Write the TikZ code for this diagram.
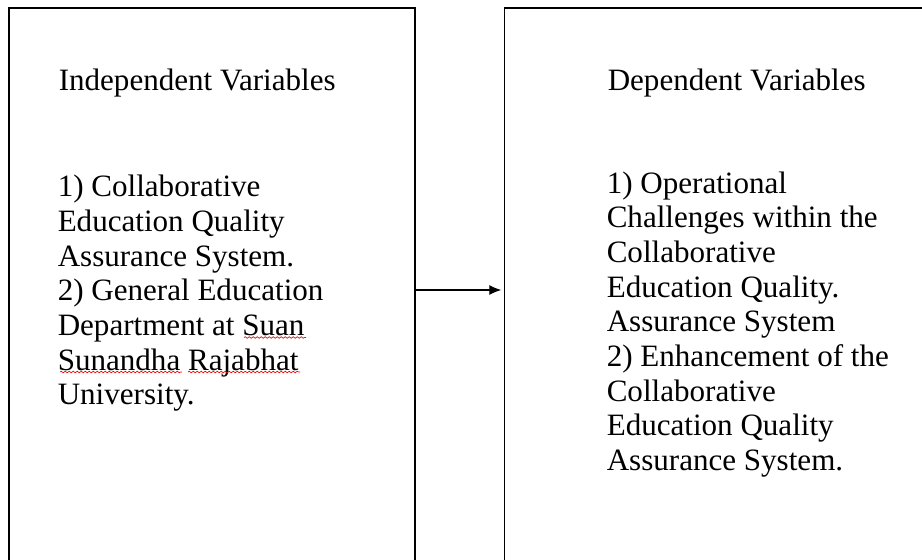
\documentclass[tikz,border=0pt]{standalone}
\usepackage{fontspec}
\setmainfont{Liberation Serif}
\usetikzlibrary{arrows.meta,decorations.pathmorphing}

\begin{document}
\begin{tikzpicture}[x=0.75pt,y=-0.75pt,
	varbox/.style={draw,line width=0.9pt,inner sep=0pt,minimum height=423pt},
	vartext/.style={anchor=base west,align=left,inner sep=0pt,font=\fontsize{23.3pt}{26pt}\selectfont},
	spell/.style={red,line width=0.5pt,decorate,decoration={snake,amplitude=0.6pt,segment length=3pt}}]
	\useasboundingbox (0,0) rectangle (922,560);
	\clip (0,0) rectangle (922,560);
	\node[varbox,minimum width=304.5pt] (indep) at (212,290) {};
	\node[varbox,minimum width=319.1pt] (dep) at (717.25,290) {};
	\draw[line width=0.8pt,-{Latex[length=9pt,width=7.5pt]},shorten >=2pt] (indep.east)--(dep.west);
	\node[vartext] (indephead) at (58.5,90.5) {Independent Variables};
	\node[vartext] (indeplist) at (57.5,404.7) {1) Collaborative\\Education Quality\\Assurance System.\\2) General Education\\Department at Suan\\Sunandha Rajabhat\\University.};
	\node[vartext] (dephead) at (607.5,90.5) {Dependent Variables};
	\node[vartext] (deplist) at (606.5,470.5) {1) Operational\\Challenges within the\\Collaborative\\Education Quality.\\Assurance System\\2) Enhancement of the\\Collaborative\\Education Quality\\Assurance System.};
	\draw[spell] (244,337.5)--(306,337.5);
	\draw[spell] (60,372)--(182,372);
	\draw[spell] (188,372)--(300,372);
\end{tikzpicture}
\end{document}
